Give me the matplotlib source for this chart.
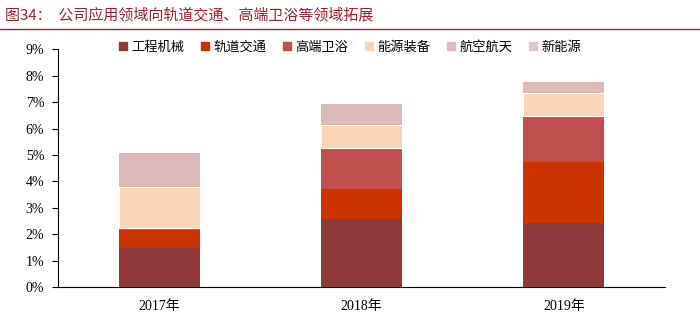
import matplotlib
matplotlib.use("Agg")
from matplotlib import pyplot as plt
from matplotlib.lines import Line2D
import numpy as np

plt.rcParams['font.family'] = ['Noto Sans CJK SC', 'DejaVu Sans']

years = ["2017年", "2018年", "2019年"]
series = ["工程机械", "轨道交通", "高端卫浴", "能源装备", "航空航天", "新能源"]
jixie = [1.48, 2.56, 2.44]
guidao = [0.68, 1.15, 2.29]
weiyu = [0.08, 1.57, 1.75]
nengyuan = [1.53, 0.87, 0.88]
hangkong = [1.30, 0.78, 0.41]
xinnengyuan = [0.0, 0.0, 0.0]
values = [jixie, guidao, weiyu, nengyuan, hangkong, xinnengyuan]
colors = ["#8E3A3A", "#CC3300", "#C0504D", "#FBD3B5", "#DDB9BA", "#DCC6CC"]
yticks = [0, 1, 2, 3, 4, 5, 6, 7, 8, 9]

fig = plt.figure(figsize=(7, 3.32), dpi=100)
ax = fig.add_axes([0.083, 0.1355, 0.867, 0.716])

x = np.arange(len(years))
bottom = np.zeros(len(years))
for name, vals, c in zip(series, values, colors):
    vals = np.array(vals)
    light = name in ("能源装备",)
    ax.bar(x, vals, 0.4, bottom=bottom, color=c, label=name,
           edgecolor="white" if light else c, linewidth=0.8 if light else 0)
    bottom += vals

ax.set_xlim(-0.5, 2.5)
ax.set_ylim(0, 9)
ax.set_yticks(yticks)
ax.set_yticklabels([f"{t}%" for t in yticks], family=["Liberation Serif"], fontsize=10)
ax.set_xticks(x)
ax.set_xticklabels(years, family=["Liberation Serif", "Noto Sans CJK SC"], fontsize=10)
ax.tick_params(axis="x", length=0, pad=9)
ax.tick_params(axis="y", length=4, direction="out", width=0.8, pad=6)
for s in ("top", "right"):
    ax.spines[s].set_visible(False)
ax.spines["left"].set_linewidth(0.8)
ax.spines["bottom"].set_linewidth(0.8)

handles = [Line2D([], [], marker="s", linestyle="", markersize=6,
                  markerfacecolor=c, markeredgecolor=c) for c in colors]
fig.legend(handles, series, ncol=6, loc="center", bbox_to_anchor=(0.5, 0.858),
           frameon=False, fontsize=9.5, handlelength=0.6, handletextpad=0.3,
           columnspacing=1.3)

# title and underline
fig.text(0.007, 0.955, "图34：  公司应用领域向轨道交通、高端卫浴等领域拓展",
         color="#A3202C", fontsize=10.8, va="center", ha="left")
fig.add_artist(Line2D([0, 1], [0.912, 0.912], color="#A3202C", linewidth=1.0,
                      transform=fig.transFigure))

fig.savefig("out.png", dpi=100)
